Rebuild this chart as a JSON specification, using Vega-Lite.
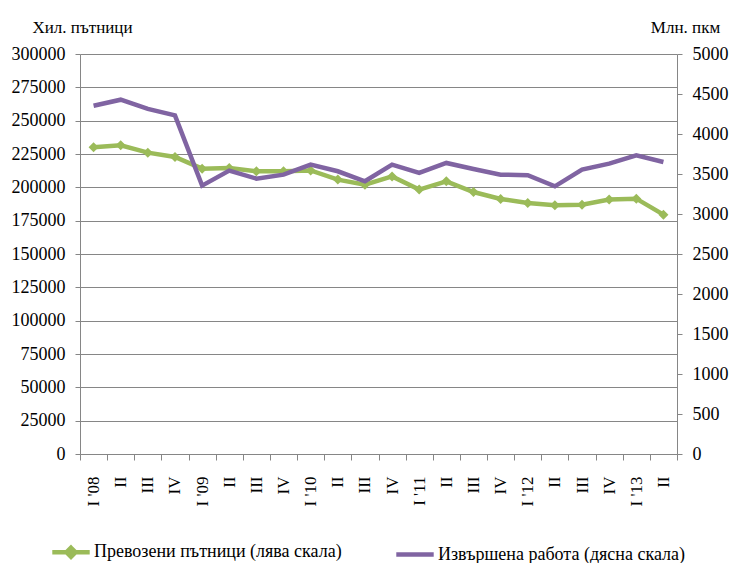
{
  "$schema": "https://vega.github.io/schema/vega-lite/v6.json",
  "width": 597,
  "height": 400,
  "autosize": {"type": "none"},
  "padding": {"left": 80, "top": 54, "right": 55, "bottom": 109},
  "background": "white",
  "config": {
    "view": {"stroke": null},
    "font": "Liberation Serif",
    "axis": {"labelFont": "Liberation Serif", "titleFont": "Liberation Serif", "labelColor": "black", "titleColor": "black", "domainColor": "#868686", "tickColor": "#868686", "gridColor": "#868686", "labelFontSize": 18, "titleFontSize": 17, "titleFontWeight": "normal", "labelOverlap": false},
    "legend": {"labelFont": "Liberation Serif", "labelFontSize": 18, "labelColor": "black", "labelLimit": 0}
  },
  "data": {"values": [
    {"q": "I '08", "p": 230000, "w": 4354},
    {"q": "II|08", "p": 231500, "w": 4429},
    {"q": "III|08", "p": 226000, "w": 4313},
    {"q": "IV|08", "p": 222800, "w": 4233},
    {"q": "I '09", "p": 214000, "w": 3355},
    {"q": "II|09", "p": 214500, "w": 3542},
    {"q": "III|09", "p": 212000, "w": 3442},
    {"q": "IV|09", "p": 212000, "w": 3492},
    {"q": "I '10", "p": 212700, "w": 3617},
    {"q": "II|10", "p": 205800, "w": 3534},
    {"q": "III|10", "p": 202000, "w": 3409},
    {"q": "IV|10", "p": 208200, "w": 3617},
    {"q": "I '11", "p": 198300, "w": 3513},
    {"q": "II|11", "p": 204500, "w": 3638},
    {"q": "III|11", "p": 196500, "w": 3563},
    {"q": "IV|11", "p": 191300, "w": 3492},
    {"q": "I '12", "p": 188300, "w": 3484},
    {"q": "II|12", "p": 186500, "w": 3346},
    {"q": "III|12", "p": 187000, "w": 3555},
    {"q": "IV|12", "p": 190800, "w": 3630},
    {"q": "I '13", "p": 191500, "w": 3733},
    {"q": "II|13", "p": 179500, "w": 3650}
  ]},
  "encoding": {
    "x": {"field": "q", "type": "ordinal", "sort": null, "bandPosition": 0.5,
      "scale": {"type": "band", "paddingInner": 0, "paddingOuter": 0},
      "axis": {"title": null, "labelAngle": -90, "labelAlign": "right", "labelBaseline": "middle", "labelPadding": 16, "tickBand": "extent", "tickSize": 6, "labelFontSize": 17, "labelExpr": "datum.value ? split(datum.value, '|')[0] : ''"}
    }
  },
  "layer": [
    {
      "mark": {"type": "line", "strokeWidth": 4.5, "point": {"shape": "diamond", "filled": true, "size": 100, "opacity": 1}},
      "encoding": {
        "y": {"field": "p", "type": "quantitative", "scale": {"domain": [0, 300000]},
          "axis": {"title": "Хил. пътници", "titleAngle": 0, "titleAlign": "center", "titleBaseline": "middle", "titleX": 2, "titleY": -27, "values": [0,25000,50000,75000,100000,125000,150000,175000,200000,225000,250000,275000,300000], "format": "d", "labelPadding": 10, "tickSize": 5, "grid": true}},
        "color": {"datum": "Превозени пътници (лява скала)", "type": "nominal",
          "scale": {"domain": ["Превозени пътници (лява скала)", "Извършена работа (дясна скала)"], "range": ["#9BBB59", "#8064A2"]},
          "legend": {"title": null, "orient": "none", "direction": "horizontal", "legendX": -30, "legendY": 477, "symbolType": "stroke", "symbolStrokeWidth": 4.5, "symbolSize": 1400, "columnPadding": 45, "labelOffset": 2,
            "encode": {"symbols": {"update": {
              "shape": {"signal": "datum.value === 'Превозени пътници (лява скала)' ? 'M-1,0L1,0M0,-0.24L0.24,0L0,0.24L-0.24,0Z' : 'M-1,0L1,0'"},
              "fill": {"signal": "datum.value === 'Превозени пътници (лява скала)' ? '#9BBB59' : 'transparent'"},
              "stroke": {"signal": "datum.value === 'Превозени пътници (лява скала)' ? '#9BBB59' : '#8064A2'"},
              "strokeWidth": {"value": 4.5}
            }}}}}
      }
    },
    {
      "mark": {"type": "line", "strokeWidth": 4.5},
      "encoding": {
        "y": {"field": "w", "type": "quantitative", "scale": {"domain": [0, 5000]},
          "axis": {"orient": "right", "title": "Млн. пкм", "titleAngle": 0, "titleAlign": "center", "titleBaseline": "middle", "titleX": 8, "titleY": -27, "values": [0,500,1000,1500,2000,2500,3000,3500,4000,4500,5000], "format": "d", "labelPadding": 10, "tickSize": 5, "grid": false}},
        "color": {"datum": "Извършена работа (дясна скала)", "type": "nominal"}
      }
    }
  ],
  "resolve": {"scale": {"y": "independent"}}
}
